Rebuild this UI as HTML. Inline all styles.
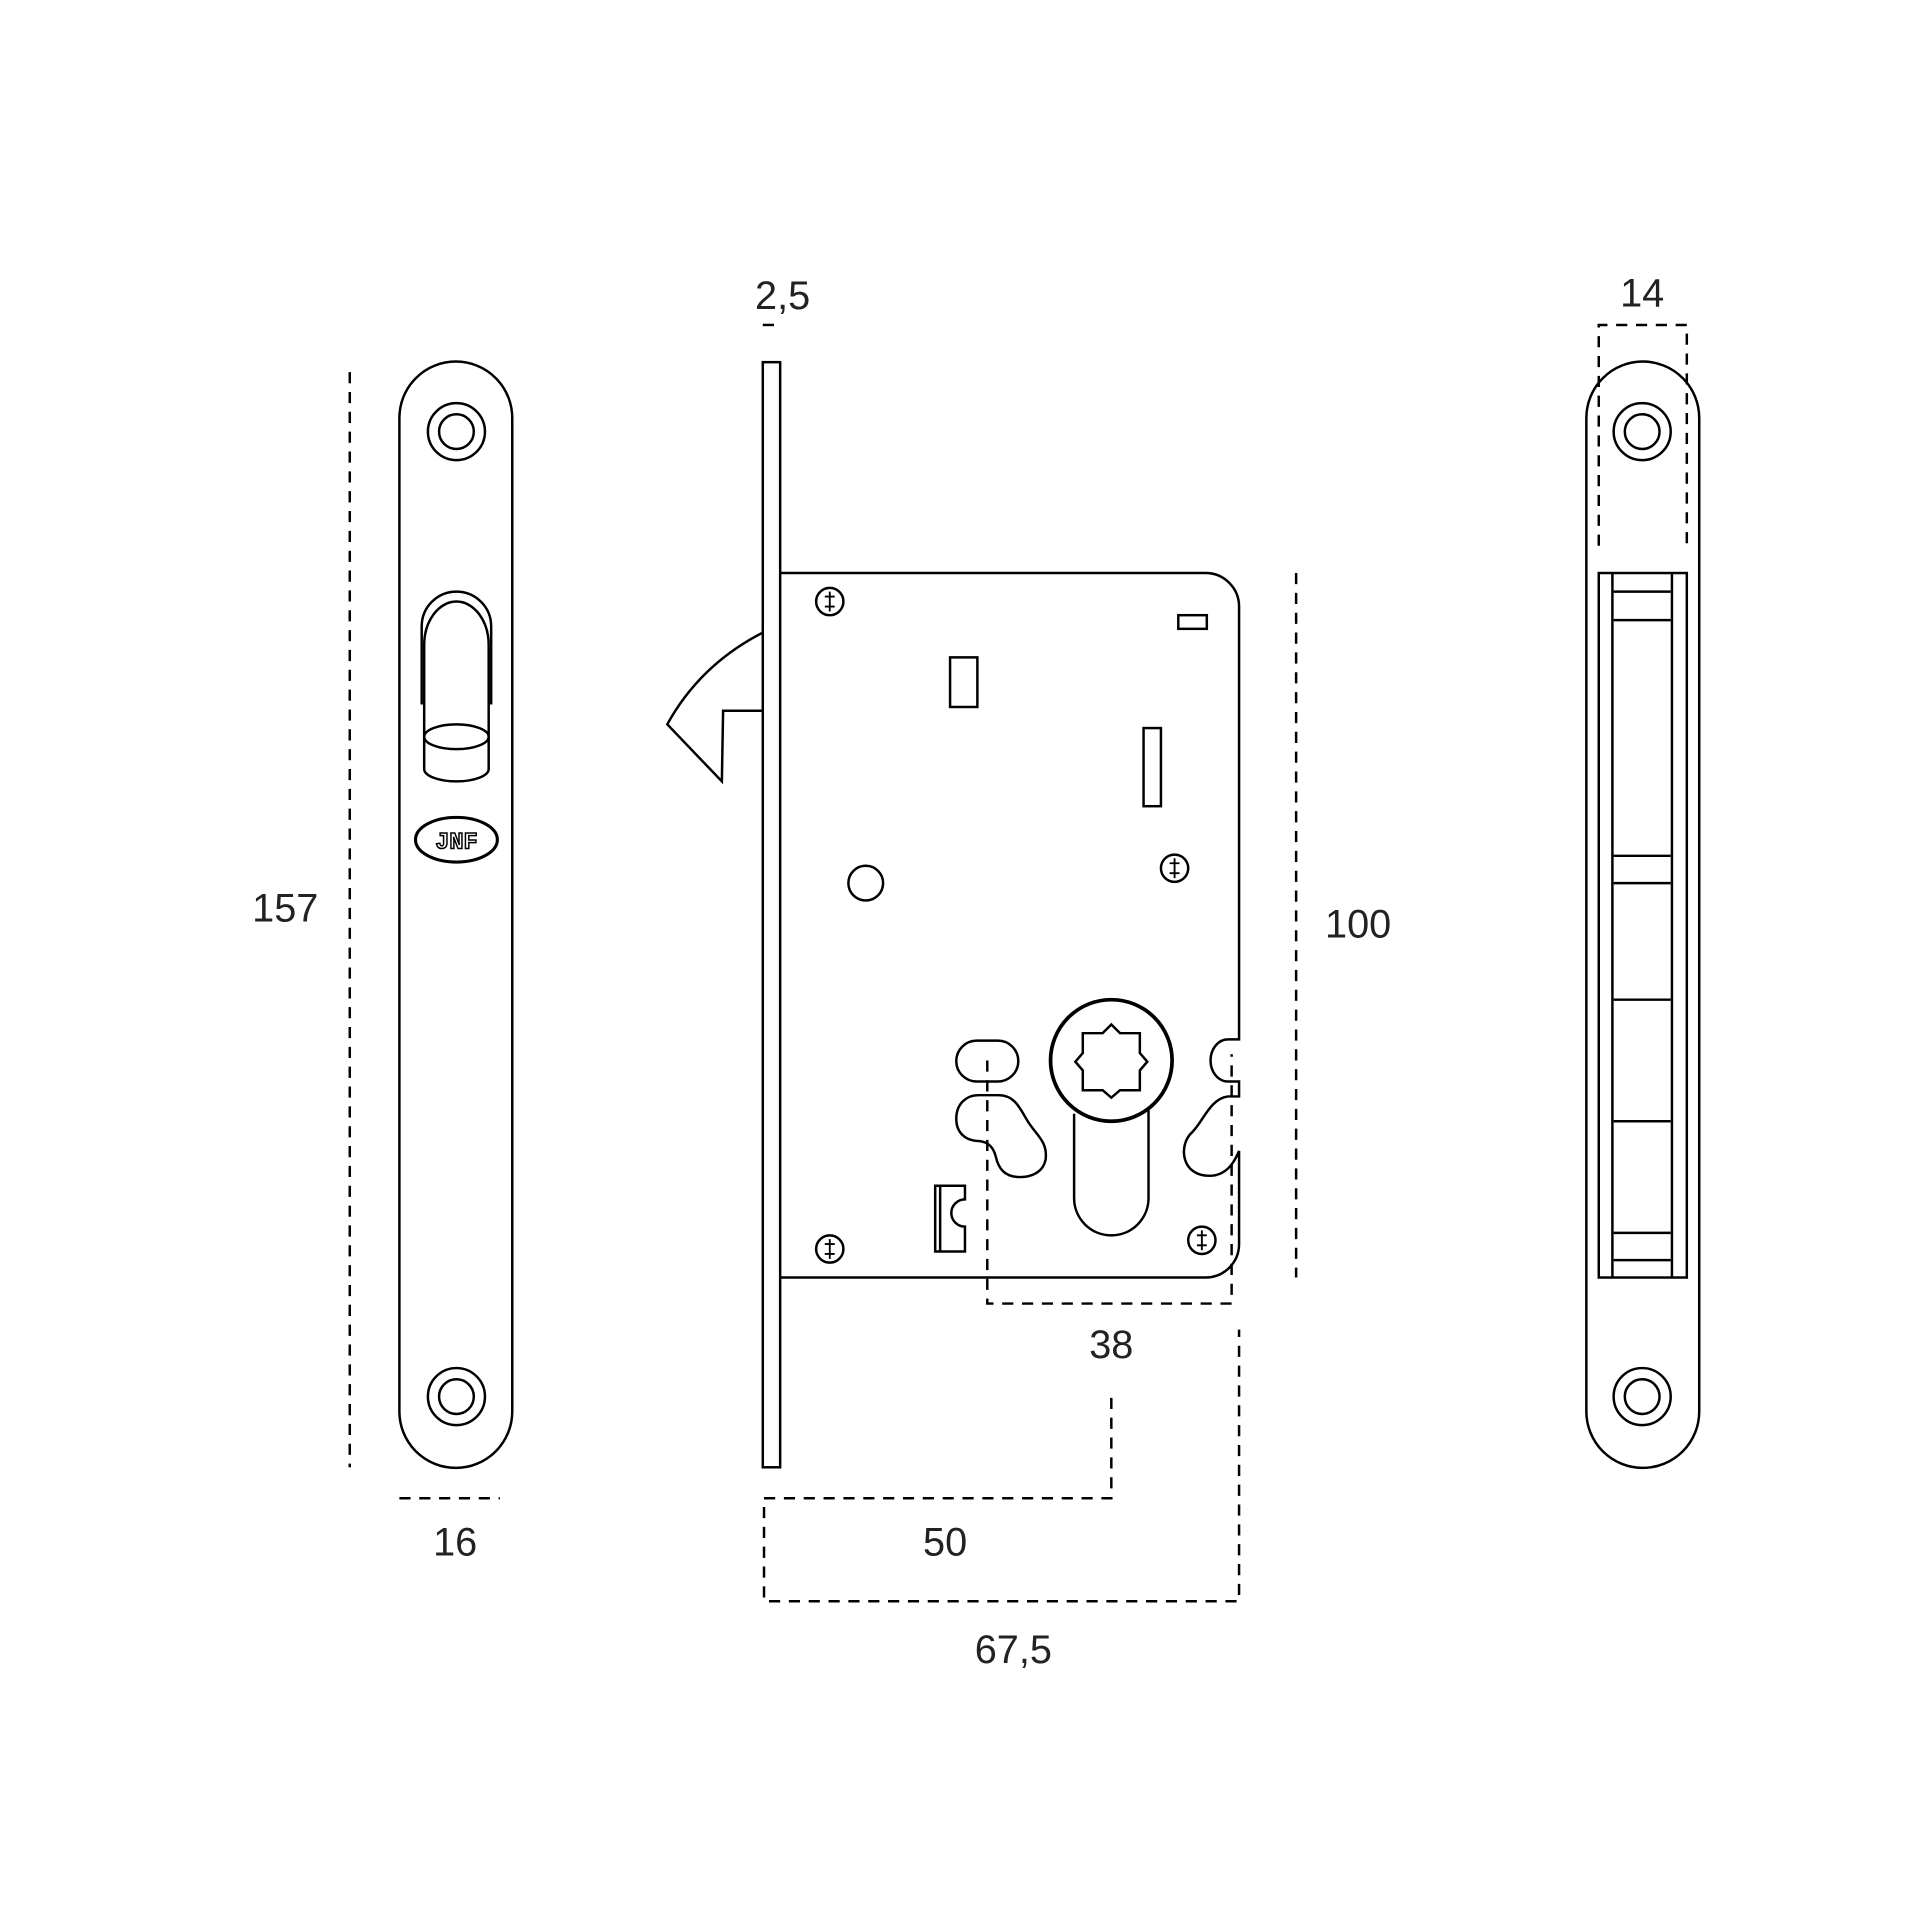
<!DOCTYPE html>
<html><head><meta charset="utf-8"><style>html,body{margin:0;padding:0;background:#fff}svg{display:block}</style></head>
<body>
<svg width="1920" height="1920" viewBox="0 0 1548 1548" xmlns="http://www.w3.org/2000/svg" fill="none" stroke="#000" stroke-width="2" font-family="Liberation Sans, sans-serif">
<!-- LEFT PLATE -->
<path d="M322,337 A45.5,45.5 0 0 1 413,337 L413,1138 A45.5,45.5 0 0 1 322,1138 Z"/>
<circle cx="368" cy="348" r="23"/><circle cx="368" cy="348" r="14"/>
<circle cx="368" cy="1126" r="23"/><circle cx="368" cy="1126" r="14"/>
<path d="M340,568 L340,505 A28,28 0 0 1 396,505 L396,568"/>
<path d="M342,620 L342,520 A26,35 0 0 1 394,520 L394,620 A26,10 0 0 1 342,620 Z"/>
<ellipse cx="368" cy="594" rx="26" ry="10"/>
<ellipse cx="368" cy="677" rx="33" ry="18" stroke-width="2.5"/>
<text x="368" y="684" font-size="19" font-weight="bold" text-anchor="middle" fill="#fff" stroke="#000" stroke-width="1.2" font-family="Liberation Mono, monospace">JNF</text>
<path d="M282,300 V1183" stroke-dasharray="9,7"/>
<path d="M322,1208 H403" stroke-dasharray="9,7"/>
<!-- MIDDLE -->
<rect x="615" y="292" width="14" height="891"/>
<path d="M615,262 H629" stroke-dasharray="9,7"/>
<path d="M629,462 H972 A27,27 0 0 1 999,489 V838 H990 A14,17 0 0 0 990,872 H999 V884 H990 C975,886 970,905 960,914 C950,925 953,948 975,948 C990,948 996,935 999,928 V1003 A27,27 0 0 1 972,1030 H629"/>
<path d="M615,510 C580,528 555,553 538,584 L582,630 L583,573 L615,573"/>
<g>
<circle cx="669" cy="485" r="11"/><circle cx="947" cy="700" r="11"/><circle cx="669" cy="1007" r="11"/><circle cx="969" cy="1000" r="11"/>
</g>
<g stroke-width="1.5">
<path d="M665,481 h8 M669,477 v8 M665,489 h8 M669,493 v-8"/>
<path d="M943,696 h8 M947,692 v8 M943,704 h8 M947,708 v-8"/>
<path d="M665,1003 h8 M669,999 v8 M665,1011 h8 M669,1015 v-8"/>
<path d="M965,996 h8 M969,992 v8 M965,1004 h8 M969,1008 v-8"/>
</g>
<rect x="766" y="530" width="22" height="40"/>
<rect x="922" y="587" width="14" height="63"/>
<rect x="950" y="496" width="23" height="11"/>
<circle cx="698" cy="712" r="14"/>
<circle cx="896" cy="855" r="49" stroke-width="3"/>
<path d="M873,833 H889 L896,826 L903,833 H919 V849 L925,856 L919,863 V879 H903 L896,885 L889,879 H873 V863 L867,856 L873,849 Z"/>
<path d="M866,898 V966 A30,30 0 0 0 926,966 V895"/>
<rect x="771" y="839" width="50" height="33" rx="16.5"/>
<path d="M789,883 H805 C818,883 822,893 828,903 C835,915 845,920 843,935 C841,945 832,949 822,949 C810,949 805,942 803,933 C801,925 797,921 790,920 C778,920 771,913 771,902 C771,890 779,883 789,883 Z"/>
<path d="M754,956 H778 V967 A11,11 0 0 0 778,989 V1009 H754 Z M758,956 V1009"/>
<g stroke-dasharray="9,7">
<path d="M796,855 V1051 H993 V850"/>
<path d="M1045,462 V1030"/>
<path d="M896,1127 V1208 H616 V1291 H999 V1072"/>
</g>
<!-- RIGHT -->
<path d="M1279,337 A45.5,45.5 0 0 1 1370,337 L1370,1138 A45.5,45.5 0 0 1 1279,1138 Z"/>
<circle cx="1324" cy="348" r="23"/><circle cx="1324" cy="348" r="14"/>
<circle cx="1324" cy="1126" r="23"/><circle cx="1324" cy="1126" r="14"/>
<path d="M1289,440 V262 H1360 V440" stroke-dasharray="9,7"/>
<rect x="1289" y="462" width="71" height="568"/>
<path d="M1300,462 V1030 M1348,462 V1030"/>
<path d="M1301,477 H1347 M1301,500 H1347 M1301,690 H1347 M1301,712 H1347 M1301,806 H1347 M1301,904 H1347 M1301,994 H1347 M1301,1016 H1347"/>
<!-- TEXT -->
<g fill="#222" stroke="none" font-size="32" text-anchor="middle">
<text x="631" y="249">2,5</text>
<text x="1324" y="247">14</text>
<text x="230" y="743">157</text>
<text x="367" y="1254">16</text>
<text x="1095" y="756">100</text>
<text x="896" y="1095">38</text>
<text x="762" y="1254">50</text>
<text x="817" y="1341">67,5</text>
</g>
</svg>
</body></html>
